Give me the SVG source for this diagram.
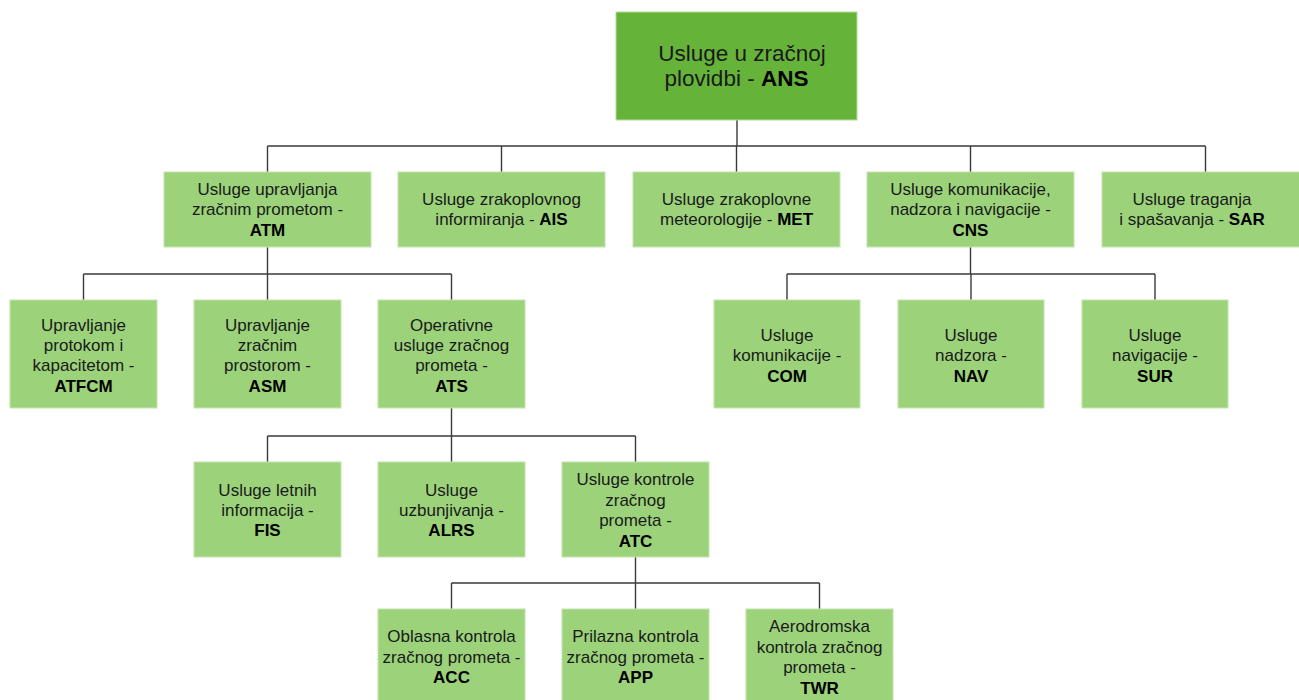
<svg xmlns="http://www.w3.org/2000/svg" width="1299" height="700" viewBox="0 0 1299 700">
<style>
.b{fill:#9cd37a;stroke:#c4e4ae;stroke-width:1}
.top{fill:#66b33a;stroke:#b4dc9a;stroke-width:1}
text{font-family:"Liberation Sans",Arial,sans-serif;font-size:17px;fill:#1a1a1a;text-anchor:middle}
.big{font-size:22.5px}
.k{font-weight:bold;fill:#000}
.c{fill:none;stroke:#3a3a3a;stroke-width:1.4}
</style>
<rect width="1299" height="700" fill="#fff"/>
<g id="connectors">
<path class="c" d="M737 120V146M267.5 146H1205.5M267.5 146V172M501.5 146V172M736.5 146V172M970.5 146V172M1205.5 146V172"/>
<path class="c" d="M267.5 247V274M83.5 274H451.5M83.5 274V300M267.5 274V300M451.5 274V300"/>
<path class="c" d="M970.5 247V274M787 274H1155M787 274V300M971 274V300M1155 274V300"/>
<path class="c" d="M451.5 408V436M267.5 436H635.5M267.5 436V462M451.5 436V462M635.5 436V462"/>
<path class="c" d="M635.5 557V583M451.5 583H819.5M451.5 583V609M635.5 583V609M819.5 583V609"/>
</g>
<g id="ANS"><rect class="top" x="616" y="12" width="241" height="108"/>
<text class="big" x="742" y="61">Usluge u zračnoj</text>
<text class="big" x="736.5" y="86">plovidbi - <tspan class="k">ANS</tspan></text></g>
<g id="ATM"><rect class="b" x="164" y="172" width="207" height="75"/>
<text x="267.5" y="195">Usluge upravljanja</text><text x="267.5" y="215">zračnim prometom -</text><text class="k" x="267.5" y="236">ATM</text></g>
<g id="AIS"><rect class="b" x="398" y="172" width="207" height="75"/>
<text x="501.5" y="205">Usluge zrakoplovnog</text><text x="501.5" y="225">informiranja - <tspan class="k">AIS</tspan></text></g>
<g id="MET"><rect class="b" x="633" y="172" width="207" height="75"/>
<text x="736.5" y="205">Usluge zrakoplovne</text><text x="736.5" y="225">meteorologije - <tspan class="k">MET</tspan></text></g>
<g id="CNS"><rect class="b" x="867" y="172" width="207" height="75"/>
<text x="970.5" y="195">Usluge komunikacije,</text><text x="970.5" y="215">nadzora i navigacije -</text><text class="k" x="970.5" y="236">CNS</text></g>
<g id="SAR"><rect class="b" x="1102" y="172" width="207" height="75"/>
<text x="1192" y="205">Usluge traganja</text><text x="1192" y="225">i spašavanja - <tspan class="k">SAR</tspan></text></g>
<g id="ATFCM"><rect class="b" x="10" y="300" width="147" height="108"/>
<text x="83.5" y="331">Upravljanje</text><text x="83.5" y="351">protokom i</text><text x="83.5" y="371">kapacitetom -</text><text class="k" x="83.5" y="392">ATFCM</text></g>
<g id="ASM"><rect class="b" x="194" y="300" width="147" height="108"/>
<text x="267.5" y="331">Upravljanje</text><text x="267.5" y="351">zračnim</text><text x="267.5" y="371">prostorom -</text><text class="k" x="267.5" y="392">ASM</text></g>
<g id="ATS"><rect class="b" x="378" y="300" width="147" height="108"/>
<text x="451.5" y="331">Operativne</text><text x="451.5" y="351">usluge zračnog</text><text x="451.5" y="371">prometa -</text><text class="k" x="451.5" y="392">ATS</text></g>
<g id="COM"><rect class="b" x="714" y="300" width="146" height="108"/>
<text x="787" y="341">Usluge</text><text x="787" y="361">komunikacije -</text><text class="k" x="787" y="382">COM</text></g>
<g id="NAV"><rect class="b" x="898" y="300" width="146" height="108"/>
<text x="971" y="341">Usluge</text><text x="971" y="361">nadzora -</text><text class="k" x="971" y="382">NAV</text></g>
<g id="SUR"><rect class="b" x="1082" y="300" width="146" height="108"/>
<text x="1155" y="341">Usluge</text><text x="1155" y="361">navigacije -</text><text class="k" x="1155" y="382">SUR</text></g>
<g id="FIS"><rect class="b" x="194" y="462" width="147" height="95"/>
<text x="267.5" y="496">Usluge letnih</text><text x="267.5" y="516">informacija -</text><text class="k" x="267.5" y="536">FIS</text></g>
<g id="ALRS"><rect class="b" x="378" y="462" width="147" height="95"/>
<text x="451.5" y="496">Usluge</text><text x="451.5" y="516">uzbunjivanja -</text><text class="k" x="451.5" y="536">ALRS</text></g>
<g id="ATC"><rect class="b" x="562" y="462" width="147" height="95"/>
<text x="635.5" y="485">Usluge kontrole</text><text x="635.5" y="506">zračnog</text><text x="635.5" y="526">prometa -</text><text class="k" x="635.5" y="547">ATC</text></g>
<g id="ACC"><rect class="b" x="378" y="609" width="147" height="100"/>
<text x="451.5" y="642">Oblasna kontrola</text><text x="451.5" y="663">zračnog prometa -</text><text class="k" x="451.5" y="683">ACC</text></g>
<g id="APP"><rect class="b" x="562" y="609" width="147" height="100"/>
<text x="635.5" y="642">Prilazna kontrola</text><text x="635.5" y="663">zračnog prometa -</text><text class="k" x="635.5" y="683">APP</text></g>
<g id="TWR"><rect class="b" x="746" y="609" width="147" height="100"/>
<text x="819.5" y="632">Aerodromska</text><text x="819.5" y="653">kontrola zračnog</text><text x="819.5" y="673">prometa -</text><text class="k" x="819.5" y="694">TWR</text></g>
</svg>
